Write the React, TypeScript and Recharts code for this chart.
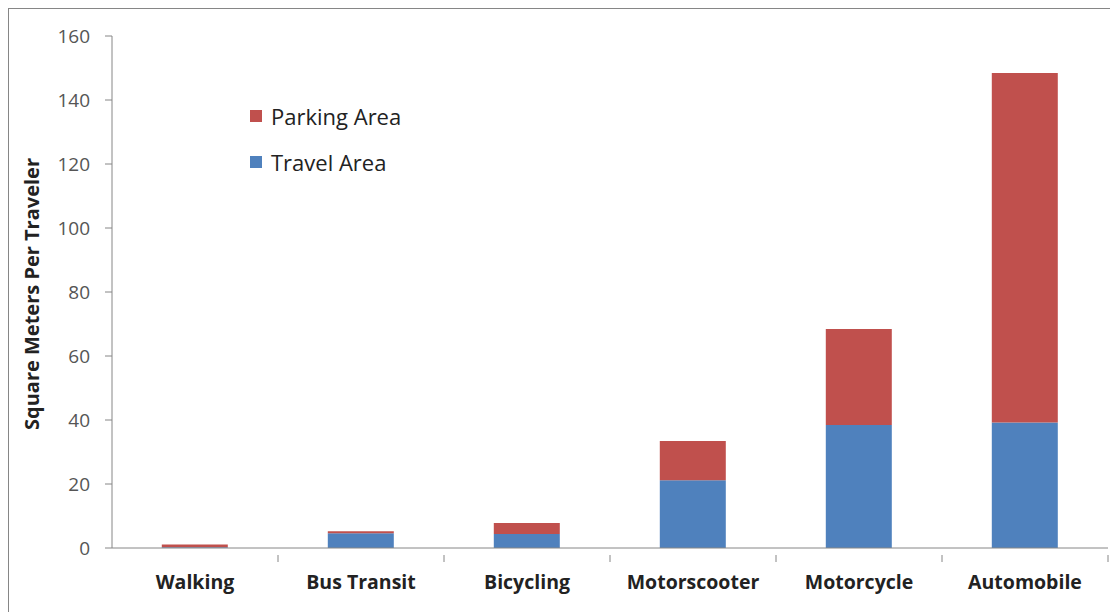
import { BarChart, Bar, XAxis, YAxis, Legend } from 'recharts';

const modes = ['Walking', 'Bus Transit', 'Bicycling', 'Motorscooter', 'Motorcycle', 'Automobile'];
const travelArea = [0.2, 4.6, 4.4, 21.2, 38.4, 39.2];
const parkingArea = [0.9, 0.6, 3.4, 12.2, 30.0, 109.2];
const yTicks = [0, 20, 40, 60, 80, 100, 120, 140, 160];

const RED = '#C0504D';
const BLUE = '#4F81BD';
const AXIS = '#868686';
const FONT = '"Open Sans", "Noto Sans", sans-serif';

const data = modes.map((mode, i) => ({
  mode,
  travel: travelArea[i],
  parking: parkingArea[i],
}));

const CHART_W = 1109;
const CHART_H = 603;
const MARGIN = { top: 27, right: 10, bottom: 24, left: 43 };
const Y_AXIS_W = 60;
const BAND = (CHART_W - MARGIN.left - MARGIN.right - Y_AXIS_W) / modes.length;

const CategoryTick = (props: any) => {
  const { x, y, payload } = props;
  return (
    <g>
      <line x1={x + BAND / 2} y1={y - 1} x2={x + BAND / 2} y2={y + 6} stroke={AXIS} />
      <text
        x={x}
        y={y + 33}
        textAnchor="middle"
        fontFamily={FONT}
        fontWeight={700}
        fontSize={19.5}
        fill="#222"
      >
        {payload.value}
      </text>
    </g>
  );
};

const LegendBox = () => (
  <div style={{ fontFamily: FONT, fontSize: 22, color: '#222' }}>
    {[
      { name: 'Parking Area', color: RED },
      { name: 'Travel Area', color: BLUE },
    ].map((item) => (
      <div key={item.name} style={{ display: 'flex', alignItems: 'center', height: 46 }}>
        <span style={{ width: 12, height: 12, background: item.color, marginRight: 9 }} />
        {item.name}
      </div>
    ))}
  </div>
);

export default function App() {
  return (
    <div
      style={{
        width: CHART_W,
        height: 620,
        border: `1px solid ${AXIS}`,
        background: '#fff',
      }}
    >
      <BarChart width={CHART_W} height={CHART_H} data={data} margin={MARGIN} barCategoryGap="30%">
        <XAxis
          dataKey="mode"
          stroke={AXIS}
          tickLine={false}
          tick={<CategoryTick />}
          height={40}
          interval={0}
        />
        <YAxis
          domain={[0, 160]}
          ticks={yTicks}
          width={Y_AXIS_W}
          stroke={AXIS}
          tickSize={7}
          tickMargin={15}
          tick={{ fontFamily: FONT, fontSize: 19, fill: '#555' }}
          label={{
            value: 'Square Meters Per Traveler',
            angle: -90,
            position: 'insideLeft',
            dx: -25,
            dy: 138,
            style: { fontFamily: FONT, fontSize: 20, fontWeight: 700, fill: '#222' },
          }}
        />
        <Legend
          layout="vertical"
          verticalAlign="middle"
          align="center"
          content={<LegendBox />}
          wrapperStyle={{ left: 241, top: 84, width: 220, height: 92 }}
        />
        <Bar dataKey="travel" stackId="a" fill={BLUE} isAnimationActive={false} />
        <Bar dataKey="parking" stackId="a" fill={RED} isAnimationActive={false} />
      </BarChart>
    </div>
  );
}
